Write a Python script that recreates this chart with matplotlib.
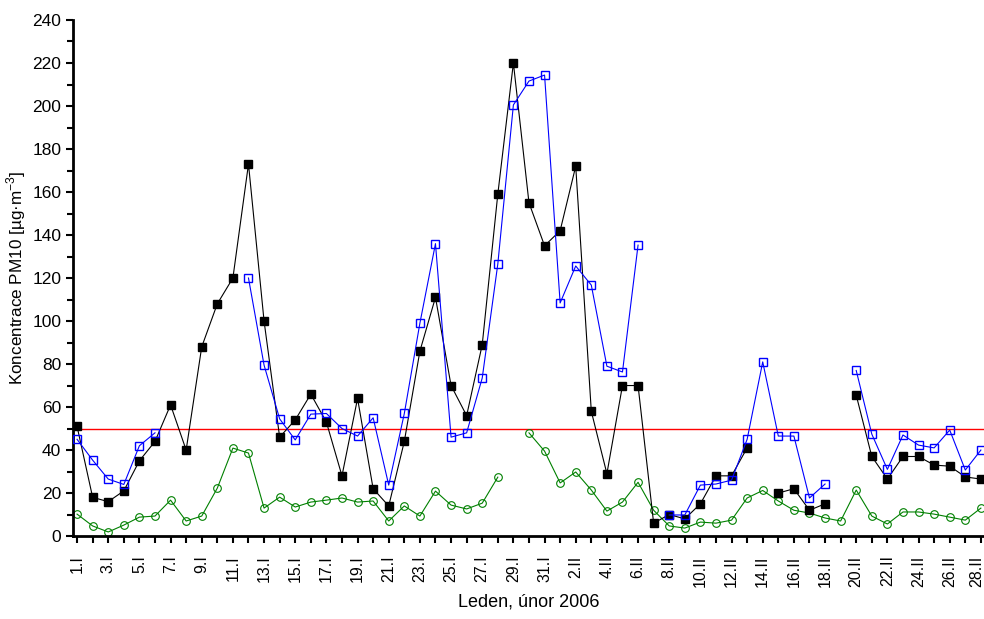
import matplotlib
matplotlib.use('Agg')
import matplotlib.pyplot as plt
import matplotlib.transforms as mtransforms
import numpy as np

plt.rcParams['font.family'] = ['Liberation Sans', 'DejaVu Sans']
plt.rcParams['mathtext.fontset'] = 'custom'
plt.rcParams['mathtext.rm'] = 'Liberation Sans'

nan = np.nan
days = np.arange(1, 60)
labels = [f'{d}.I' for d in range(1, 32)] + [f'{d}.II' for d in range(1, 29)]

# PM10 daily concentrations, 1.1. - 28.2.2006
black = [51, 18, 16, 21, 35, 44, 61, 40, 88, 108, 120, 173, 100, 46, 54, 66, 53, 28, 64, 22,
         14, 44, 86, 111, 70, 56, 89, 159, 220, 155, 135, 142, 172, 58, 29, 70, 70, 6, 10, 8,
         15, 28, 28, 41, nan, 20, 22, 12, 15, nan, 65.5, 37, 26.5, 37, 37, 33, 32.5, 27.5, 26.5]
blue = [45, 35.3, 26.5, 24, 42, 48, nan, nan, nan, nan, nan, 120, 79.5, 54.5, 44.7, 56.7, 57, 50, 46.5, 55,
        23.7, 57, 99, 136, 46, 48, 73.5, 126.5, 200.5, 211.6, 214.4, 108.4, 125.6, 116.7, 79, 76.3, 135.3, nan, 9.8, 9.8,
        23.7, 24.2, 26, 45, 81, 46.5, 46.5, 17.7, 24.2, nan, 77, 47.4, 31, 47, 42.3, 41, 49.3, 30.7, 40]
green = [10.2, 4.7, 1.9, 5.1, 8.8, 9.3, 16.7, 7, 9.3, 22.3, 40.9, 38.6, 13, 18.1, 13.5, 15.8, 16.7, 17.7, 15.8, 16.3,
         7, 14, 9.3, 20.9, 14.4, 12.6, 15.3, 27.4, nan, 48, 39.5, 24.7, 29.8, 21.4, 11.6, 15.8, 25, 12, 4.7, 3.7,
         6.5, 6, 7.4, 17.7, 21.2, 16.3, 12, 10.7, 8.4, 7, 21.4, 9.3, 5.6, 11.2, 11.2, 10.2, 8.8, 7.4, 13]
limit = 50

fig = plt.figure(figsize=(9.84, 6.19), dpi=100)
ax = fig.add_axes([0.0742, 0.134, 0.9258, 0.8337])

ax.axhline(limit, color='#ff0000', lw=1.0, zorder=1)
ax.plot(days, green, color='#008000', lw=0.8, marker='o', ms=5.5, mfc='none', mec='#008000', mew=0.8, zorder=2)
ax.plot(days, black, color='black', lw=0.8, marker='s', ms=5.8, mfc='black', mec='black', zorder=3)
ax.plot(days, blue, color='#0000ff', lw=0.8, marker='s', ms=5.3, mfc='none', mec='#0000ff', mew=1.0, zorder=4)

ax.set_xlim(0.74, 59.2)
ax.set_ylim(0, 240)
ax.set_yticks(np.arange(0, 241, 20))
ax.set_yticks(np.arange(10, 240, 20), minor=True)
ax.set_xticks(days)
ax.set_xticklabels([l if i % 2 == 0 else '' for i, l in enumerate(labels)], rotation=90, fontsize=11.5)
ax.tick_params(axis='y', labelsize=12.5, width=1.5, length=5, direction='out')
ax.tick_params(axis='y', which='minor', width=1.5, length=4)
ax.tick_params(axis='x', width=1.5, length=5, direction='out', pad=9)

# last date label sits on the figure edge, nudge it inside
last = ax.get_xticklabels()[-1]
last.set_transform(last.get_transform() + mtransforms.ScaledTranslation(-4 / 100, 0, fig.dpi_scale_trans))

for s in ['top', 'right']:
    ax.spines[s].set_visible(False)
for s in ['left', 'bottom']:
    ax.spines[s].set_linewidth(2)

ax.set_ylabel(r'Koncentrace PM10 [µg·m$^{-3}$]', fontsize=12.3, labelpad=3)
ax.set_xlabel('Leden, únor 2006', fontsize=13, labelpad=5)

fig.savefig('out.png', dpi=100)
